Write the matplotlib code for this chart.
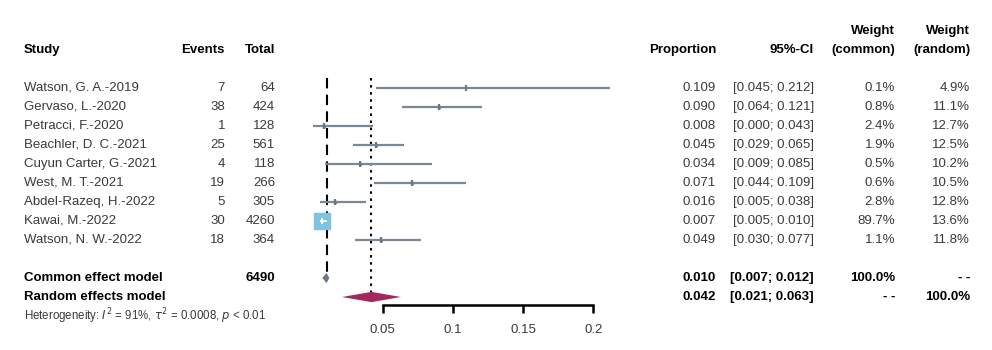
import numpy as np
import matplotlib.pyplot as plt

plt.rcParams['font.family'] = ['Liberation Sans', 'DejaVu Sans']

studies = ["Watson, G. A.-2019", "Gervaso, L.-2020", "Petracci, F.-2020",
           "Beachler, D. C.-2021", "Cuyun Carter, G.-2021", "West, M. T.-2021",
           "Abdel-Razeq, H.-2022", "Kawai, M.-2022", "Watson, N. W.-2022"]
events = [7, 38, 1, 25, 4, 19, 5, 30, 18]
totals = [64, 424, 128, 561, 118, 266, 305, 4260, 364]
prop = [0.109, 0.090, 0.008, 0.045, 0.034, 0.071, 0.016, 0.007, 0.049]
lower = [0.045, 0.064, 0.000, 0.029, 0.009, 0.044, 0.005, 0.005, 0.030]
upper = [0.212, 0.121, 0.043, 0.065, 0.085, 0.109, 0.038, 0.010, 0.077]
w_common = [0.1, 0.8, 2.4, 1.9, 0.5, 0.6, 2.8, 89.7, 1.1]
w_random = [4.9, 11.1, 12.7, 12.5, 10.2, 10.5, 12.8, 13.6, 11.8]

common_est, common_lo, common_hi, common_n = 0.010, 0.007, 0.012, 6490
random_est, random_lo, random_hi = 0.042, 0.021, 0.063
ticks = [0.05, 0.1, 0.15, 0.2]
tick_labels = ["0.05", "0.1", "0.15", "0.2"]

fig = plt.figure(figsize=(9.92, 3.5), dpi=100)
ax = fig.add_axes([0, 0, 1, 1])
ax.set_xlim(-312.5 / 1404, (992 - 312.5) / 1404)
ax.set_ylim((350 - 88) / 19, -88 / 19)

line_col = '#7a8896'
txt_col = '#3a3a3a'
rows = np.arange(len(studies))

# confidence intervals and study squares
ax.hlines(rows, lower, upper, color=line_col, lw=1.6, zorder=2)
ws = np.array(w_common)
sizes = 117 * ws / ws.max()
big = ws > 20
ax.scatter(np.array(prop)[~big], rows[~big], s=sizes[~big], marker='s',
           color=line_col, zorder=3)
ax.scatter(np.array(prop)[~big], rows[~big], s=22, marker='|',
           color='#6a7785', linewidths=1.6, zorder=3)
ax.scatter(np.array(prop)[big], rows[big], s=sizes[big], marker='s',
           color='#7fc3de', zorder=3)
ax.hlines(rows[big], np.array(lower)[big], np.array(upper)[big],
          color='white', lw=1.4, zorder=4)
ax.scatter(np.array(prop)[big], rows[big], s=14, marker='|',
           color='white', linewidths=1.4, zorder=4)

# reference lines for pooled estimates
ax.vlines(common_est, -0.55, 9.8, color='black', lw=1.5,
          linestyles=(0, (5, 3)), zorder=1)
ax.vlines(random_est, -0.55, 10.75, color='black', lw=1.5,
          linestyles=(0, (1.2, 2.2)), zorder=1)

# diamonds
h = 0.27
ax.fill([common_lo, common_est, common_hi, common_est],
        [10, 10 - h, 10, 10 + h], color='#6b7988', lw=0, zorder=3)
ax.fill([random_lo, random_est, random_hi, random_est],
        [11, 11 - h, 11, 11 + h], color='#a3285c', lw=0, zorder=3)

# x axis
for s in ['top', 'left', 'right']:
    ax.spines[s].set_visible(False)
ax.spines['bottom'].set_position(('data', 11.42))
ax.spines['bottom'].set_bounds(ticks[0], ticks[-1])
ax.spines['bottom'].set_linewidth(1.8)
ax.set_xticks(ticks)
ax.set_xticklabels(tick_labels)
ax.tick_params(axis='x', direction='out', length=6, width=1.8, pad=8,
               labelsize=9.5, labelcolor=txt_col)
ax.set_yticks([])

# text columns
tr = ax.get_yaxis_transform()
fs = 9.5


def col(x_px, y, s, ha='right', bold=False, color=txt_col, size=fs):
    ax.text(x_px / 992, y, s, transform=tr, ha=ha, va='center',
            fontsize=size, fontweight='bold' if bold else 'normal', color=color)


col(24, -2, "Study", ha='left', bold=True, color='black')
col(225, -2, "Events", bold=True, color='black')
col(275, -2, "Total", bold=True, color='black')
col(716, -2, "Proportion", bold=True, color='black')
col(814, -2, "95%-CI", bold=True, color='black')
col(895, -3, "Weight", bold=True, color='black')
col(895, -2, "(common)", bold=True, color='black')
col(970, -3, "Weight", bold=True, color='black')
col(970, -2, "(random)", bold=True, color='black')

for i in rows:
    col(24, i, studies[i], ha='left')
    col(225, i, str(events[i]))
    col(275, i, str(totals[i]))
    col(716, i, f"{prop[i]:.3f}")
    col(814, i, f"[{lower[i]:.3f}; {upper[i]:.3f}]")
    col(895, i, f"{w_common[i]:.1f}%")
    col(970, i, f"{w_random[i]:.1f}%")

col(24, 10, "Common effect model", ha='left', bold=True, color='black')
col(275, 10, str(common_n), bold=True, color='black')
col(716, 10, f"{common_est:.3f}", bold=True, color='black')
col(814, 10, f"[{common_lo:.3f}; {common_hi:.3f}]", bold=True, color='black')
col(895, 10, "100.0%", bold=True, color='black')
col(970, 10, "- -", bold=True, color='black')

col(24, 11, "Random effects model", ha='left', bold=True, color='black')
col(716, 11, f"{random_est:.3f}", bold=True, color='black')
col(814, 11, f"[{random_lo:.3f}; {random_hi:.3f}]", bold=True, color='black')
col(895, 11, "- -", bold=True, color='black')
col(970, 11, "100.0%", bold=True, color='black')

col(24, 12, r"Heterogeneity: $I^2$ = 91%, $\tau^2$ = 0.0008, $p$ < 0.01",
    ha='left', size=8.3)

fig.savefig("out.png", dpi=100)
